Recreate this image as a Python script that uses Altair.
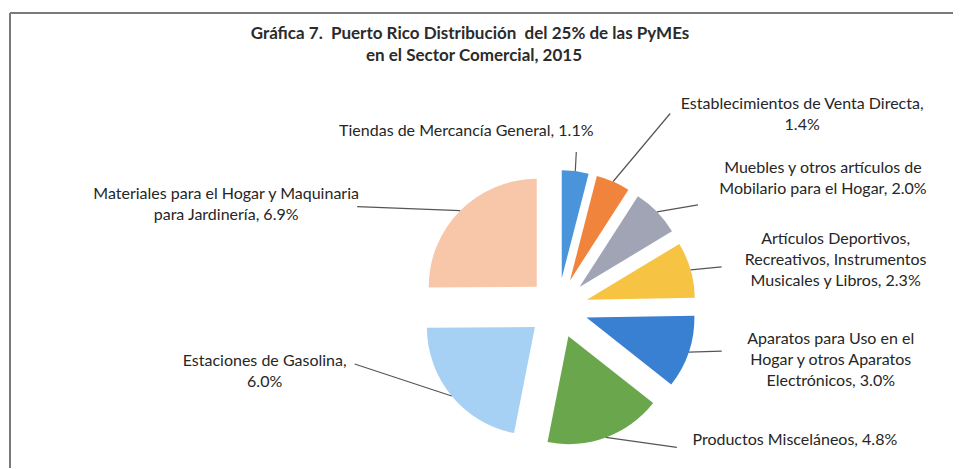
import altair as alt
import pandas as pd

# ---------------- data ----------------
categories = [
    "Tiendas de Mercancía General",
    "Establecimientos de Venta Directa",
    "Muebles y otros artículos de Mobilario para el Hogar",
    "Artículos Deportivos, Recreativos, Instrumentos Musicales y Libros",
    "Aparatos para Uso en el Hogar y otros Aparatos Electrónicos",
    "Productos Misceláneos",
    "Estaciones de Gasolina",
    "Materiales para el Hogar y Maquinaria para Jardinería",
]
values = [1.1, 1.4, 2.0, 2.3, 3.0, 4.8, 6.0, 6.9]
labels = [
    "Tiendas de Mercancía General, 1.1%",
    "Establecimientos de Venta Directa,\n1.4%",
    "Muebles y otros artículos de\nMobilario para el Hogar, 2.0%",
    "Artículos Deportivos,\nRecreativos, Instrumentos\nMusicales y Libros, 2.3%",
    "Aparatos para Uso en el\nHogar y otros Aparatos\nElectrónicos, 3.0%",
    "Productos Misceláneos, 4.8%",
    "Estaciones de Gasolina,\n6.0%",
    "Materiales para el Hogar y Maquinaria\npara Jardinería, 6.9%",
]
title_lines = [
    "Gráfica 7. \u00a0Puerto Rico Distribución \u00a0del 25% de las PyMEs",
    "en el Sector Comercial, 2015",
]

# ---------------- style / layout ----------------
colors = ["#4a94dc", "#f0843c", "#a0a4b4", "#f6c343",
          "#3a80d2", "#6aa74c", "#a6d0f4", "#f8c6a8"]
W, H = 945, 460
CX, CY = 550, 300          # pie centre inside the plot area
R = 108                    # pie radius
EXPLODE = 30               # distance every slice is pulled out
FONT = "Lato"
FS = 16
# leader end relative to the slice edge, label centre relative to leader end
leader_off = [(1, -19), (57, -68), (41, -7), (31, -3), (33, -1), (71, 10), (-97, -32), (-103, -4)]
text_off = [(-110, -22), (132, -11), (125, -38), (114, -29), (109, -13), (118, -9), (-90, -4), (-131, -14)]

df = pd.DataFrame({
    "idx": list(range(len(categories))),
    "category": categories,
    "value": values,
    "label": labels,
    "ldx": [o[0] for o in leader_off],
    "ldy": [o[1] for o in leader_off],
    "tdx": [o[0] for o in text_off],
    "tdy": [o[1] for o in text_off],
})

base = (
    alt.Chart(df)
    .transform_joinaggregate(total="sum(value)")
    .transform_window(cum="sum(value)", sort=[alt.SortField("idx")], frame=[None, 0])
    .transform_calculate(
        a0="2*PI*(datum.cum - datum.value)/datum.total",
        a1="2*PI*datum.cum/datum.total",
    )
    .transform_calculate(mid="(datum.a0 + datum.a1)/2")
    .transform_calculate(
        px=f"{CX} + {EXPLODE}*sin(datum.mid)",
        py=f"{CY} - {EXPLODE}*cos(datum.mid)",
        ax=f"{CX} + {EXPLODE + R}*sin(datum.mid)",
        ay=f"{CY} - {EXPLODE + R}*cos(datum.mid)",
    )
    .transform_calculate(lx="datum.ax + datum.ldx", ly="datum.ay + datum.ldy")
    .transform_calculate(tx="datum.lx + datum.tdx", ty=f"datum.ly + datum.tdy - {FS * 0.43}")
)

arcs = base.mark_arc(radius=R).encode(
    theta=alt.Theta("a0:Q", scale=None),
    theta2="a1:Q",
    x=alt.X("px:Q", scale=None, axis=None),
    y=alt.Y("py:Q", scale=None, axis=None),
    color=alt.Color("category:N", scale=alt.Scale(domain=categories, range=colors), legend=None),
)

leaders = base.mark_rule(color="#555555", strokeWidth=1.2).encode(
    x=alt.X("ax:Q", scale=None, axis=None),
    y=alt.Y("ay:Q", scale=None, axis=None),
    x2="lx:Q",
    y2="ly:Q",
)

texts = base.mark_text(
    align="center", baseline="top", font=FONT, fontSize=FS,
    color="#262626", lineBreak="\n", lineHeight=21,
).encode(
    x=alt.X("tx:Q", scale=None, axis=None),
    y=alt.Y("ty:Q", scale=None, axis=None),
    text="label:N",
)

one = alt.Chart(pd.DataFrame({"k": [0]}))
frame_top = one.mark_rule(color="#7a7a7a", strokeWidth=2).encode(
    x=alt.value(2), x2=alt.value(W), y=alt.value(5))
frame_left = one.mark_rule(color="#7a7a7a", strokeWidth=2).encode(
    x=alt.value(2), y=alt.value(5), y2=alt.value(H))

title1 = one.mark_text(font=FONT, fontSize=17, fontWeight="bold", color="#2b2b2b",
                       align="center", baseline="middle").encode(
    x=alt.value(462), y=alt.value(26), text=alt.value(title_lines[0]))
title2 = one.mark_text(font=FONT, fontSize=17, fontWeight="bold", color="#2b2b2b",
                       align="center", baseline="middle").encode(
    x=alt.value(466), y=alt.value(48), text=alt.value(title_lines[1]))

chart = (
    alt.layer(frame_top, frame_left, arcs, leaders, texts, title1, title2)
    .properties(width=W, height=H, padding=0, autosize=alt.AutoSizeParams(type="none"))
    .configure_view(strokeWidth=0)
)

chart.save("out.html", embed_options={"renderer": "svg", "actions": False})
